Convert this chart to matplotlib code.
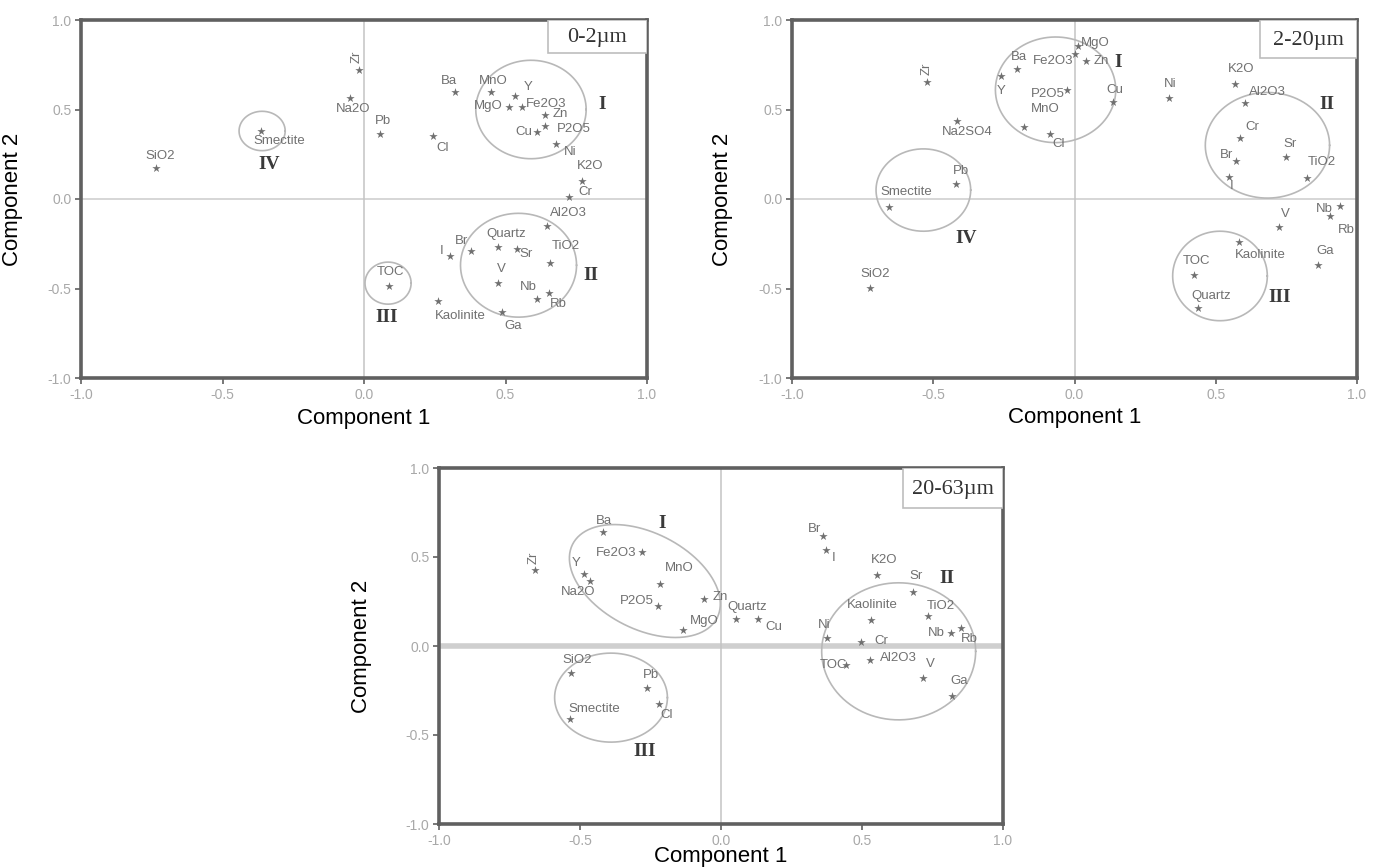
"""
PCA loading plots, three grain-size fractions
"""

import matplotlib.pyplot as plt
import numpy as np
from matplotlib.patches import Rectangle

plt.rcParams['font.family'] = ['Liberation Sans', 'DejaVu Sans']

# ---- 0-2 um ----
names_a = ['Zr', 'Na2O', 'Pb', 'Cl', 'Ba', 'MnO', 'Y', 'MgO', 'Fe2O3', 'Zn',
           'Cu', 'P2O5', 'Ni', 'K2O', 'Cr', 'Al2O3', 'Quartz', 'Sr', 'TiO2',
           'Br', 'I', 'V', 'Nb', 'Rb', 'Kaolinite', 'Ga', 'TOC', 'SiO2',
           'Smectite']
x_a = [-0.018, -0.050, 0.057, 0.245, 0.323, 0.447, 0.535, 0.511, 0.560, 0.638,
       0.610, 0.638, 0.677, 0.770, 0.723, 0.645, 0.472, 0.539, 0.656,
       0.379, 0.305, 0.472, 0.610, 0.652, 0.262, 0.489, 0.089, -0.734,
       -0.365]
y_a = [0.721, 0.564, 0.363, 0.352, 0.598, 0.598, 0.575, 0.514, 0.514, 0.469,
       0.374, 0.408, 0.307, 0.101, 0.011, -0.151, -0.268, -0.279, -0.358,
       -0.291, -0.318, -0.469, -0.559, -0.525, -0.570, -0.631, -0.486, 0.173,
       0.380]

# ---- 2-20 um ----
names_b = ['Zr', 'Na2SO4', 'Pb', 'Smectite', 'SiO2', 'Ba', 'Y', 'MnO', 'Cl',
           'P2O5', 'Fe2O3', 'MgO', 'Zn', 'Cu', 'Ni', 'K2O', 'Al2O3', 'Cr', 'Sr',
           'Br', 'I', 'TiO2', 'V', 'Nb', 'Rb', 'Kaolinite', 'Ga', 'TOC',
           'Quartz']
x_b = [-0.521, -0.415, -0.419, -0.658, -0.725, -0.204, -0.261, -0.180, -0.085,
       -0.028, 0.000, 0.011, 0.039, 0.137, 0.335, 0.567, 0.602, 0.585, 0.750,
       0.570, 0.546, 0.824, 0.725, 0.940, 0.905, 0.581, 0.863, 0.423,
       0.437]
y_b = [0.654, 0.436, 0.084, -0.045, -0.497, 0.726, 0.687, 0.402, 0.363,
       0.609, 0.810, 0.855, 0.771, 0.542, 0.564, 0.642, 0.536, 0.341, 0.235,
       0.212, 0.123, 0.117, -0.156, -0.039, -0.095, -0.240, -0.369, -0.425,
       -0.609]

# ---- 20-63 um ----
names_c = ['Ba', 'Zr', 'Fe2O3', 'Y', 'Na2O', 'MnO', 'P2O5', 'MgO', 'SiO2', 'Pb',
           'Cl', 'Smectite', 'Zn', 'Quartz', 'Cu', 'Br', 'I', 'K2O', 'Sr',
           'TiO2', 'Kaolinite', 'Ni', 'Cr', 'Nb', 'Rb', 'TOC', 'Al2O3', 'V',
           'Ga']
x_c = [-0.418, -0.660, -0.280, -0.486, -0.465, -0.216, -0.223, -0.135, -0.532,
       -0.262, -0.220, -0.535, -0.060, 0.053, 0.131, 0.362, 0.372, 0.553, 0.681,
       0.734, 0.532, 0.376, 0.496, 0.816, 0.851, 0.443, 0.528, 0.716,
       0.819]
y_c = [0.640, 0.427, 0.528, 0.404, 0.365, 0.348, 0.225, 0.090, -0.152,
       -0.236, -0.326, -0.410, 0.264, 0.152, 0.152, 0.618, 0.539, 0.399, 0.303,
       0.169, 0.146, 0.045, 0.022, 0.073, 0.101, -0.107, -0.079, -0.180,
       -0.281]

fractions = ['0-2\u00b5m', '2-20\u00b5m', '20-63\u00b5m']

# label offsets in pixels (dx, dy) relative to the point
OFF_A = {'Zr': (-2, 13), 'Na2O': (3, -11), 'Pb': (3, 13), 'Cl': (9, -12),
         'Ba': (-6, 11), 'MnO': (3, 11), 'Y': (13, 9), 'MgO': (-20, 1),
         'Fe2O3': (24, 3), 'Zn': (16, 1), 'Cu': (-13, 0), 'P2O5': (29, -3),
         'Ni': (15, -8), 'K2O': (8, 15), 'Cr': (17, 5), 'Al2O3': (22, 13),
         'Quartz': (9, 13), 'Sr': (10, -5), 'TiO2': (16, 17), 'Br': (-10, 10),
         'I': (-9, 5), 'V': (4, 14), 'Nb': (-8, 12), 'Rb': (10, -11),
         'Kaolinite': (22, -15), 'Ga': (11, -14), 'TOC': (1, 14),
         'SiO2': (4, 12), 'Smectite': (19, -10)}
OFF_B = {'Zr': (-1, 13), 'Na2SO4': (10, -11), 'Pb': (5, 13), 'Smectite': (18, 15),
         'SiO2': (5, 14), 'Ba': (2, 12), 'Y': (0, -15), 'MnO': (22, 18),
         'Cl': (8, -10), 'P2O5': (-19, -4), 'Fe2O3': (-21, -7), 'MgO': (18, 3),
         'Zn': (16, 0), 'Cu': (2, 12), 'Ni': (1, 14), 'K2O': (6, 15),
         'Al2O3': (23, 11), 'Cr': (13, 11), 'Sr': (4, 13), 'Br': (-9, 6),
         'I': (3, -9), 'TiO2': (15, 16), 'V': (6, 13), 'Nb': (-16, -3),
         'Rb': (16, -14), 'Kaolinite': (22, -13), 'Ga': (7, 14), 'TOC': (3, 14),
         'Quartz': (13, 12)}
OFF_C = {'Ba': (1, 11), 'Zr': (-1, 12), 'Fe2O3': (-26, -1), 'Y': (-8, 11),
         'Na2O': (-12, -11), 'MnO': (19, 16), 'P2O5': (-21, 5), 'MgO': (21, 9),
         'SiO2': (6, 13), 'Pb': (4, 13), 'Cl': (8, -11), 'Smectite': (24, 10),
         'Zn': (16, 2), 'Quartz': (11, 12), 'Cu': (16, -8), 'Br': (-9, 7),
         'I': (8, -8), 'K2O': (7, 15), 'Sr': (3, 16), 'TiO2': (13, 10),
         'Kaolinite': (1, 15), 'Ni': (-3, 13), 'Cr': (20, 1), 'Nb': (-15, 0),
         'Rb': (8, -11), 'TOC': (-12, 0), 'Al2O3': (29, 2), 'V': (7, 14),
         'Ga': (7, 15)}

# group ellipses: (cx, cy, width, height, angle in screen degrees)
ELL_A = [(0.59, 0.50, 0.39, 0.55, 0), (0.546, -0.37, 0.41, 0.58, 0),
         (0.085, -0.47, 0.163, 0.235, 0), (-0.36, 0.38, 0.163, 0.22, 0)]
ELL_B = [(-0.067, 0.61, 0.426, 0.59, 0), (0.683, 0.30, 0.44, 0.59, 0),
         (0.515, -0.43, 0.335, 0.50, 0), (-0.535, 0.05, 0.335, 0.46, 0)]
ELL_C = [(-0.27, 0.365, 0.575, 0.54, -27), (0.63, -0.03, 0.546, 0.77, 0),
         (-0.39, -0.29, 0.40, 0.50, 0)]

ROM_A = [('I', 0.84, 0.53), ('II', 0.80, -0.43), ('III', 0.08, -0.66),
         ('IV', -0.335, 0.195)]
ROM_B = [('I', 0.155, 0.76), ('II', 0.895, 0.53), ('III', 0.725, -0.55),
         ('IV', -0.385, -0.22)]
ROM_C = [('I', -0.21, 0.69), ('II', 0.80, 0.38), ('III', -0.27, -0.59)]

W, H = 13.73, 8.67
fig = plt.figure(figsize=(W, H), dpi=100)

axes_pos = [
    [81 / 1373, 489 / 867, 566 / 1373, 358 / 867],
    [792 / 1373, 489 / 867, 565 / 1373, 358 / 867],
    [439 / 1373, 43 / 867, 564 / 1373, 356 / 867],
]
box_pos = [(0.825, 0.908), (0.828, 0.894), (0.823, 0.888)]
ylab_x = [-0.102, -0.104, -0.119]
xlab_y = [-0.084, -0.081, -0.063]
hline_w = [1.2, 1.2, 4.0]

panels = [
    (names_a, x_a, y_a, OFF_A, ELL_A, ROM_A),
    (names_b, x_b, y_b, OFF_B, ELL_B, ROM_B),
    (names_c, x_c, y_c, OFF_C, ELL_C, ROM_C),
]

SPINE = '#606060'
PTCOL = '#707070'
TXT = '#707070'

for i, (names, xs, ys, offs, ells, roms) in enumerate(panels):
    ax = fig.add_axes(axes_pos[i])
    ax.set_xlim(-1, 1)
    ax.set_ylim(-1, 1)
    ax.axhline(0, color='#cfcfcf', lw=hline_w[i], zorder=0)
    ax.axvline(0, color='#c4c4c4', lw=1.1, zorder=0)

    # pixel size of one data unit, for round-looking ellipses
    pxu_x = axes_pos[i][2] * W * 100 / 2
    pxu_y = axes_pos[i][3] * H * 100 / 2
    t = np.linspace(0, 2 * np.pi, 300)
    for cx, cy, w, h, ang in ells:
        a = w / 2 * pxu_x
        b = h / 2 * pxu_y
        th = np.radians(ang)
        u = a * np.cos(t)
        v = b * np.sin(t)
        ex = cx + (u * np.cos(th) - v * np.sin(th)) / pxu_x
        ey = cy + (u * np.sin(th) + v * np.cos(th)) / pxu_y
        ax.plot(ex, ey, color='#b8b8b8', lw=1.2, zorder=1)

    ax.scatter(xs, ys, marker='*', s=40, color=PTCOL, linewidths=0, zorder=3)
    for n, x, y in zip(names, xs, ys):
        dx, dy = offs[n]
        ax.annotate(n, (x, y), xytext=(dx, dy), textcoords='offset pixels',
                    ha='center', va='center', fontsize=9.5, color=TXT,
                    rotation=90 if n == 'Zr' else 0, zorder=4)

    for r, x, y in roms:
        ax.text(x, y, r, fontsize=14, fontweight='bold', color='#3a3a3a',
                family=['Liberation Serif', 'DejaVu Serif'],
                ha='center', va='center')

    bx, by = box_pos[i]
    ax.add_patch(Rectangle((bx, by), 1 - bx, 1 - by, transform=ax.transAxes,
                           facecolor='white', edgecolor='#bdbdbd', lw=1.2,
                           zorder=5))
    ax.text((bx + 1) / 2, (by + 1) / 2 - 0.003, fractions[i],
            transform=ax.transAxes, ha='center', va='center', fontsize=16,
            color='#333333', family=['Liberation Serif', 'DejaVu Serif'],
            zorder=6)

    for s in ax.spines.values():
        s.set_color(SPINE)
        s.set_linewidth(2.6)
    ticks = [-1.0, -0.5, 0.0, 0.5, 1.0]
    ax.set_xticks(ticks)
    ax.set_yticks(ticks)
    ax.set_xticklabels([f'{v:.1f}' for v in ticks])
    ax.set_yticklabels([f'{v:.1f}' for v in ticks])
    ax.tick_params(direction='out', length=4, width=1.2, color=SPINE,
                   labelcolor='#a8a8a8', labelsize=10, pad=3)

    ax.set_xlabel('Component 1', fontsize=16, color='black')
    ax.set_ylabel('Component 2', fontsize=16, color='black')
    ax.xaxis.set_label_coords(0.5, xlab_y[i])
    ax.yaxis.set_label_coords(ylab_x[i], 0.5)

fig.savefig('out.png', dpi=100)
